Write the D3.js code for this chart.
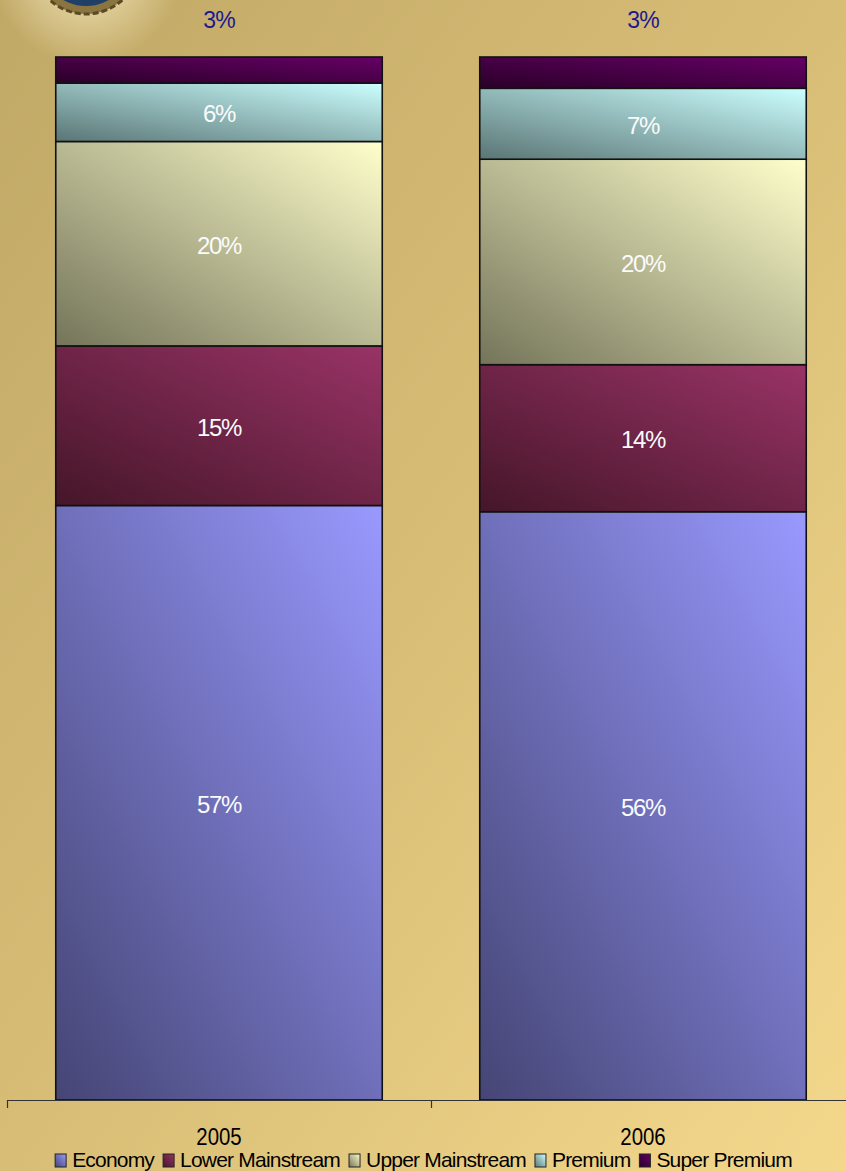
<!DOCTYPE html>
<html>
<script src='https://d3js.org/d3.v7.min.js'></script>
<style>
body {margin: 0; overflow: hidden;}
text {font-family: 'Liberation Sans', Arial, sans-serif;}
</style>
<body onload='init()'>
<script>
// chart data
var years = ['2005', '2006'];
var segments = ['Economy', 'Lower Mainstream', 'Upper Mainstream', 'Premium', 'Super Premium'];
var share2005 = [57.0, 15.3, 19.6, 5.6, 2.5];
var share2006 = [56.4, 14.1, 19.7, 6.8, 3.0];

// light / dark ends of each segment's gradient
var lightCol = ['#9999ff', '#993366', '#ffffcc', '#ccffff', '#660066'];
var darkCol = ['#454575', '#451629', '#74745a', '#5a7575', '#2a0028'];

function init() {
  var W = 846, H = 1171;

  var svg = d3.select('body')
    .append('svg')
    .attr('width', W)
    .attr('height', H);

  var defs = svg.append('defs');

  // background
  var bg = defs.append('linearGradient').attr('id', 'bg')
    .attr('x1', 0).attr('y1', 0).attr('x2', 1).attr('y2', 1);
  bg.append('stop').attr('offset', 0).attr('stop-color', '#c0a866');
  bg.append('stop').attr('offset', 0.5).attr('stop-color', '#d8bd76');
  bg.append('stop').attr('offset', 1).attr('stop-color', '#f3d88c');
  svg.append('rect').attr('width', W).attr('height', H).attr('fill', 'url(#bg)');

  // bit of the logo peeking in at the top left
  var glow = defs.append('radialGradient').attr('id', 'glow');
  glow.append('stop').attr('offset', 0).attr('stop-color', '#fff6d0').attr('stop-opacity', 0.8);
  glow.append('stop').attr('offset', 1).attr('stop-color', '#fff6d0').attr('stop-opacity', 0);
  svg.append('circle').attr('cx', 86).attr('cy', -30).attr('r', 95).attr('fill', 'url(#glow)');
  svg.append('circle').attr('cx', 86).attr('cy', -40).attr('r', 54)
    .attr('fill', '#8a7440').attr('stroke', '#5a4a22').attr('stroke-width', 3)
    .attr('stroke-dasharray', '6,3');
  svg.append('circle').attr('cx', 86).attr('cy', -40).attr('r', 46).attr('fill', '#1f3f66');

  // one gradient per segment: dark bottom-left, light top-right
  segments.forEach(function(s, i) {
    var g = defs.append('linearGradient').attr('id', 'seg' + i)
      .attr('x1', 0).attr('y1', 1).attr('x2', 1).attr('y2', 0);
    g.append('stop').attr('offset', 0).attr('stop-color', darkCol[i]);
    g.append('stop').attr('offset', 1).attr('stop-color', lightCol[i]);
  });

  var x = d3.scaleBand().domain(years).range([7, 855]);
  var y = d3.scaleLinear().domain([0, 100]).range([1100, 57]);
  var barW = x.bandwidth() * 0.77;

  var rows = [share2005, share2006].map(function(vals, j) {
    var acc = 0;
    return vals.map(function(v, i) {
      var r = {year: years[j], seg: i, v: v, y0: acc, y1: acc + v};
      acc += v;
      return r;
    });
  });
  var flat = rows[0].concat(rows[1]);

  var bars = svg.append('g');
  bars.selectAll('rect')
    .data(flat)
    .enter()
    .append('rect')
    .attr('x', function(d) { return x(d.year) + (x.bandwidth() - barW) / 2; })
    .attr('y', function(d) { return y(d.y1); })
    .attr('width', barW)
    .attr('height', function(d) { return y(d.y0) - y(d.y1); })
    .attr('fill', function(d) { return 'url(#seg' + d.seg + ')'; })
    .attr('stroke', '#111')
    .attr('stroke-width', 1.6);

  // value labels, white inside, the top one above the bar in blue
  bars.selectAll('text')
    .data(flat)
    .enter()
    .append('text')
    .attr('x', function(d) { return x(d.year) + x.bandwidth() / 2; })
    .attr('y', function(d) {
      if (d.seg == 4) return 28;
      return (y(d.y0) + y(d.y1)) / 2 + 10;
    })
    .attr('text-anchor', 'middle')
    .style('font-size', function(d) { return d.seg == 4 ? '23px' : '24px'; })
    .style('letter-spacing', function(d) { return d.seg == 4 ? '-0.8px' : '-1.4px'; })
    .attr('fill', function(d) { return d.seg == 4 ? '#1a1a90' : '#fbfbfb'; })
    .text(function(d) { return Math.round(d.v) + '%'; });

  // x axis: line with ticks on the band edges
  var ax = svg.append('g');
  ax.append('line')
    .attr('x1', 7).attr('x2', W).attr('y1', 1100.5).attr('y2', 1100.5)
    .attr('stroke', '#333').attr('stroke-width', 1.2);
  ax.selectAll('.tick')
    .data(years)
    .enter()
    .append('line')
    .attr('x1', function(d) { return x(d) + 0.5; })
    .attr('x2', function(d) { return x(d) + 0.5; })
    .attr('y1', 1100).attr('y2', 1108)
    .attr('stroke', '#333').attr('stroke-width', 1.2);
  ax.selectAll('text')
    .data(years)
    .enter()
    .append('text')
    .attr('transform', function(d) {
      return 'translate(' + (x(d) + x.bandwidth() / 2) + ',1145) scale(0.85,1)';
    })
    .attr('text-anchor', 'middle')
    .style('font-size', '24px')
    .attr('fill', '#000')
    .text(function(d) { return d; });

  // legend
  var leg = svg.append('g');
  var items = leg.selectAll('g')
    .data(segments)
    .enter()
    .append('g');
  items.append('rect')
    .attr('width', 11).attr('height', 13)
    .attr('y', 1154)
    .attr('fill', function(d, i) { return 'url(#seg' + i + ')'; })
    .attr('stroke', '#222').attr('stroke-width', 1);
  items.append('text')
    .attr('x', 17)
    .attr('y', 1167)
    .style('font-size', '21px')
    .style('letter-spacing', '-0.8px')
    .attr('fill', '#000')
    .text(function(d) { return d; });

  var pos = 0, offs = [];
  items.each(function() {
    offs.push(pos);
    pos += 17 + d3.select(this).select('text').node().getComputedTextLength() + 9;
  });
  var start = (55 + 792) / 2 - (pos - 9) / 2;
  items.attr('transform', function(d, i) { return 'translate(' + (start + offs[i]) + ',0)'; });
}
</script>
</body>
</html>
